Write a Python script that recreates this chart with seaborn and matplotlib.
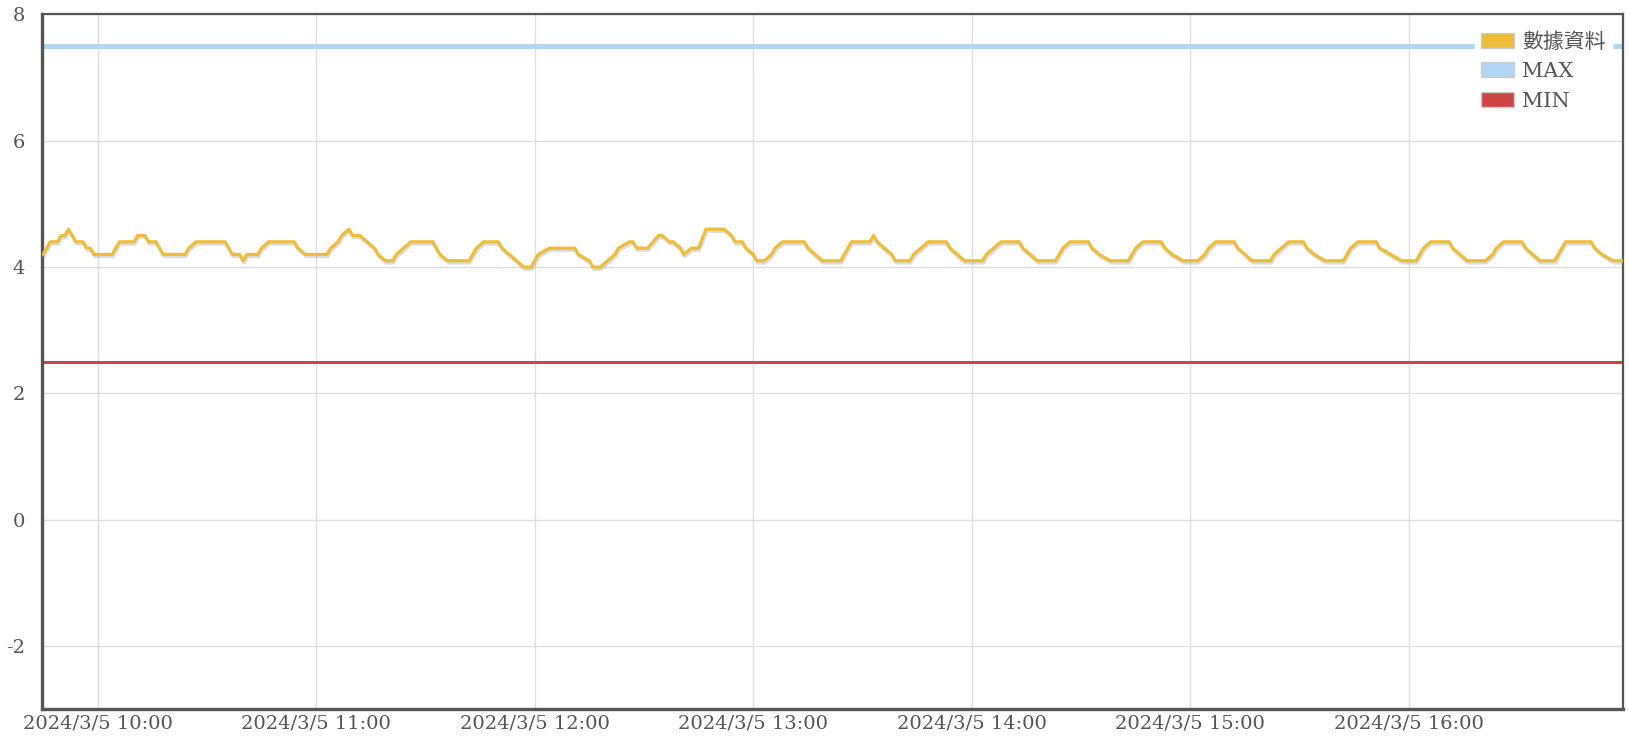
import pandas as pd
import matplotlib
matplotlib.use("Agg")
import matplotlib.pyplot as plt
import matplotlib.dates as mdates
import matplotlib.patheffects as pe
from matplotlib.patches import Patch
from matplotlib.ticker import FuncFormatter
import seaborn as sns

# trace vertices: minutes after 2024/3/5 10:00 and reading
minutes = [-15, -14, -13, -11, -10, -9, -8, -7, -6, -4, -3, -2, -1, 4, 5, 6, 10, 11, 13, 14,
           16, 17, 18, 24, 25, 27, 35, 36, 37, 39, 40, 41, 44, 45, 47, 54, 55, 57, 63, 64,
           66, 67, 69, 70, 72, 74, 76, 77, 79, 81, 82, 84, 86, 92, 93, 94, 96, 102, 103, 104,
           106, 110, 111, 113, 115, 117, 119, 120, 121, 124, 131, 132, 135, 136, 138, 140, 142, 143, 146, 147,
           148, 151, 154, 155, 157, 158, 160, 161, 163, 165, 167, 172, 174, 175, 177, 178, 180, 181, 183, 185,
           186, 188, 194, 195, 197, 199, 204, 206, 207, 212, 213, 214, 216, 218, 219, 223, 224, 226, 228, 233,
           234, 236, 238, 243, 244, 246, 248, 253, 254, 256, 258, 263, 264, 265, 267, 272, 273, 275, 278, 283,
           284, 285, 287, 292, 293, 295, 298, 302, 304, 305, 307, 312, 313, 315, 317, 322, 323, 325, 327, 331,
           332, 334, 337, 342, 343, 344, 346, 351, 352, 355, 358, 362, 363, 364, 366, 371, 372, 374, 376, 381,
           383, 384, 386, 391, 392, 394, 396, 400, 401, 402, 403, 410, 411, 413, 416, 419]
values = [4.2, 4.3, 4.4, 4.4, 4.5, 4.5, 4.6, 4.5, 4.4, 4.4, 4.3, 4.3, 4.2, 4.2, 4.3, 4.4, 4.4, 4.5, 4.5, 4.4,
          4.4, 4.3, 4.2, 4.2, 4.3, 4.4, 4.4, 4.3, 4.2, 4.2, 4.1, 4.2, 4.2, 4.3, 4.4, 4.4, 4.3, 4.2, 4.2, 4.3,
          4.4, 4.5, 4.6, 4.5, 4.5, 4.4, 4.3, 4.2, 4.1, 4.1, 4.2, 4.3, 4.4, 4.4, 4.3, 4.2, 4.1, 4.1, 4.2, 4.3,
          4.4, 4.4, 4.3, 4.2, 4.1, 4.0, 4.0, 4.1, 4.2, 4.3, 4.3, 4.2, 4.1, 4.0, 4.0, 4.1, 4.2, 4.3, 4.4, 4.4,
          4.3, 4.3, 4.5, 4.5, 4.4, 4.4, 4.3, 4.2, 4.3, 4.3, 4.6, 4.6, 4.5, 4.4, 4.4, 4.3, 4.2, 4.1, 4.1, 4.2,
          4.3, 4.4, 4.4, 4.3, 4.2, 4.1, 4.1, 4.3, 4.4, 4.4, 4.5, 4.4, 4.3, 4.2, 4.1, 4.1, 4.2, 4.3, 4.4, 4.4,
          4.3, 4.2, 4.1, 4.1, 4.2, 4.3, 4.4, 4.4, 4.3, 4.2, 4.1, 4.1, 4.2, 4.3, 4.4, 4.4, 4.3, 4.2, 4.1, 4.1,
          4.2, 4.3, 4.4, 4.4, 4.3, 4.2, 4.1, 4.1, 4.2, 4.3, 4.4, 4.4, 4.3, 4.2, 4.1, 4.1, 4.2, 4.3, 4.4, 4.4,
          4.3, 4.2, 4.1, 4.1, 4.2, 4.3, 4.4, 4.4, 4.3, 4.2, 4.1, 4.1, 4.2, 4.3, 4.4, 4.4, 4.3, 4.2, 4.1, 4.1,
          4.2, 4.3, 4.4, 4.4, 4.3, 4.2, 4.1, 4.1, 4.2, 4.3, 4.4, 4.4, 4.3, 4.2, 4.1, 4.1]

max_limit = 7.5
min_limit = 2.5
series_labels = ["數據資料", "MAX", "MIN"]
series_colors = ["#EDBD3A", "#B0D6F3", "#CC4444"]
y_ticks = [-2, 0, 2, 4, 6, 8]
hour_ticks = ["10:00", "11:00", "12:00", "13:00", "14:00", "15:00", "16:00"]

start = pd.Timestamp("2024-03-05 10:00")
df = pd.DataFrame({"time": start + pd.to_timedelta(minutes, unit="min"), "value": values})

sns.set_style("white")
plt.rcParams["font.family"] = ["DejaVu Serif", "Noto Sans CJK TC"]
plt.rcParams["axes.unicode_minus"] = False

fig = plt.figure(figsize=(16.28, 7.36), dpi=100)
ax = fig.add_axes([0.0255, 0.0367, 0.9715, 0.9436])

# limit lines
ax.axhline(max_limit, color=series_colors[1], lw=3.6, zorder=2)
ax.axhline(min_limit, color=series_colors[2], lw=2.2, zorder=2)

sns.lineplot(data=df, x="time", y="value", ax=ax, color=series_colors[0], lw=2.3, zorder=3,
             path_effects=[pe.SimpleLineShadow(offset=(0.6, -1.6), shadow_color="#999999", alpha=0.35),
                           pe.Normal()])

ax.set_xlim(start + pd.Timedelta(minutes=-15.4), start + pd.Timedelta(minutes=418.8))
ax.set_ylim(-3, 8)
ax.set_yticks(y_ticks)
ax.set_xticks([pd.Timestamp("2024-03-05 " + h) for h in hour_ticks])


def time_label(x, pos):
    d = mdates.num2date(x)
    return f"{d.year}/{d.month}/{d.day} {d:%H:%M}"


ax.xaxis.set_major_formatter(FuncFormatter(time_label))
ax.set_xlabel("")
ax.set_ylabel("")
ax.grid(True, color="#dddddd", lw=1.0)
ax.tick_params(axis="both", length=0, labelsize=14, labelcolor="#555555")
ax.tick_params(axis="x", pad=4)
ax.tick_params(axis="y", pad=12)

for side in ["left", "bottom"]:
    ax.spines[side].set_linewidth(2.4)
    ax.spines[side].set_color("#555555")
for side in ["top", "right"]:
    ax.spines[side].set_linewidth(1.6)
    ax.spines[side].set_color("#555555")

handles = [Patch(facecolor=c, edgecolor="#cccccc", lw=1) for c in series_colors]
leg = ax.legend(handles, series_labels, loc="upper right", fontsize=15, frameon=True,
                handlelength=1.55, handleheight=0.72, handletextpad=0.4, labelspacing=0.5,
                borderaxespad=0.55, borderpad=0.3, fancybox=False)
leg.get_frame().set_facecolor("white")
leg.get_frame().set_edgecolor("white")
leg.get_frame().set_alpha(1.0)
for t in leg.get_texts():
    t.set_color("#555555")

fig.savefig("out.png", dpi=100)
